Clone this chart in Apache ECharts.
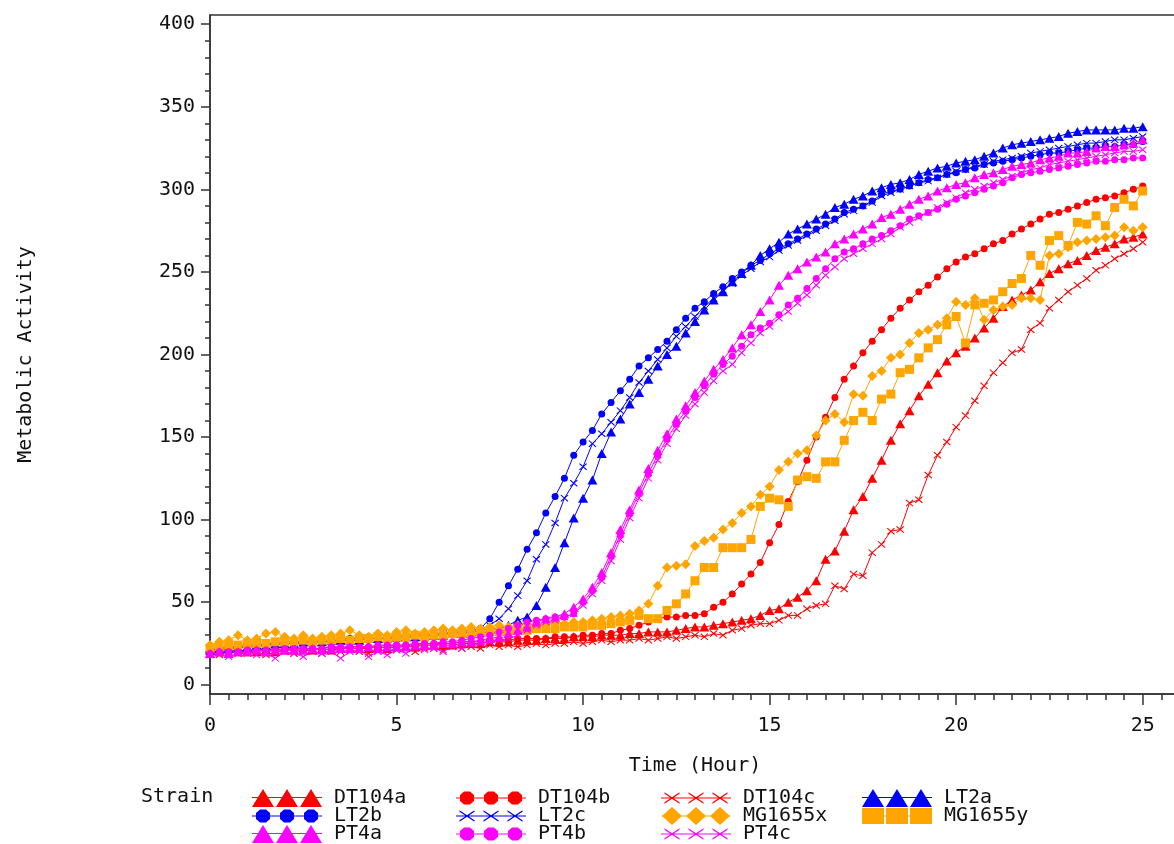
<!DOCTYPE html>
<html><head><meta charset="utf-8">
<script src="https://cdn.jsdelivr.net/npm/echarts@6/dist/echarts.min.js"></script>
<style>html,body{margin:0;padding:0;background:#fff;overflow:hidden}#c{width:1192px;height:844px}</style>
</head><body><div id="c"></div>
<script>
// ---------------- data ----------------
const hours = [0,0.25,0.5,0.75,1,1.25,1.5,1.75,2,2.25,2.5,2.75,3,3.25,3.5,3.75,4,4.25,4.5,4.75,
5,5.25,5.5,5.75,6,6.25,6.5,6.75,7,7.25,7.5,7.75,8,8.25,8.5,8.75,9,9.25,9.5,9.75,
10,10.25,10.5,10.75,11,11.25,11.5,11.75,12,12.25,12.5,12.75,13,13.25,13.5,13.75,14,14.25,14.5,14.75,
15,15.25,15.5,15.75,16,16.25,16.5,16.75,17,17.25,17.5,17.75,18,18.25,18.5,18.75,19,19.25,19.5,19.75,
20,20.25,20.5,20.75,21,21.25,21.5,21.75,22,22.25,22.5,22.75,23,23.25,23.5,23.75,24,24.25,24.5,24.75,
25];

const DT104a = [19,20,19,20,20,20,21,20,21,21,21,21,22,21,22,22,22,22,23,22,
23,23,23,24,24,24,24,25,25,25,26,26,26,27,27,27,28,28,28,29,
29,29,30,30,30,31,31,32,32,32,33,34,35,35,36,37,38,39,40,42,
45,46,50,53,57,63,76,81,93,106,114,125,136,148,158,166,175,182,189,196,
201,205,210,216,222,229,233,236,239,244,249,252,255,257,260,263,265,267,270,271,
273];
const DT104b = [20,20,21,20,21,21,21,22,21,22,22,22,22,23,22,23,23,23,23,24,
24,24,24,25,25,25,25,26,26,26,27,27,27,28,28,28,28,29,29,29,
30,30,31,31,33,34,36,38,40,41,41,42,42,43,47,50,55,61,67,74,
86,97,111,123,136,150,162,174,185,193,201,208,215,222,228,233,238,242,247,252,
256,259,261,264,267,269,273,276,279,282,285,286,288,290,292,294,295,296,298,300,
302];
const DT104c = [19,18,20,19,19,20,18,20,20,19,21,20,19,21,20,21,20,19,21,21,
21,22,20,22,22,21,23,22,23,22,24,23,24,23,24,25,24,25,25,26,
25,26,27,26,27,27,28,27,28,29,28,29,30,29,31,30,33,34,36,37,
37,39,42,42,46,48,49,60,58,67,66,80,85,93,94,110,112,127,139,147,
156,163,172,181,189,195,201,203,215,219,228,233,238,242,246,251,254,258,261,264,
268];
const LT2a = [21,22,22,23,23,24,24,25,25,25,26,26,26,27,27,27,27,28,28,28,
29,29,29,30,30,30,31,31,32,33,34,34,36,39,41,48,59,71,86,101,
113,124,140,153,161,170,177,185,193,200,205,213,220,227,233,238,244,249,254,260,
264,268,273,276,279,282,285,289,291,294,296,299,301,303,304,306,309,311,313,314,
316,317,318,320,322,325,327,328,329,330,331,332,334,335,336,336,336,336,337,337,
338];
const LT2b = [21,22,23,23,24,24,25,25,26,26,26,27,27,27,28,28,28,29,28,29,
29,30,30,30,31,31,32,33,33,34,40,50,60,70,82,92,104,114,125,139,
147,154,164,171,178,185,193,198,203,208,215,222,228,232,237,241,246,250,254,257,
261,264,267,270,273,276,279,282,286,288,290,293,297,299,300,302,304,306,307,309,
310,312,313,315,316,317,318,319,320,321,322,322,323,324,325,325,326,326,327,327,
329];
const LT2c = [20,21,22,22,23,23,24,24,25,25,25,26,26,26,27,27,27,28,28,28,
28,29,29,30,30,31,31,32,32,33,36,40,46,54,63,76,85,98,113,122,
132,146,152,159,166,174,183,190,197,204,211,217,223,229,234,239,243,248,252,256,
259,263,266,269,272,275,278,281,285,287,290,292,296,298,300,302,304,305,307,309,
311,312,314,315,317,318,319,320,322,323,324,325,326,327,328,328,329,330,330,331,
332];
const MG1655x = [24,26,27,30,27,28,31,32,29,28,30,28,29,30,31,33,30,29,31,30,
32,33,31,32,33,34,33,34,35,34,35,36,35,36,37,36,37,38,37,38,
38,39,40,41,42,43,45,49,60,71,72,73,84,87,89,94,98,104,108,115,
120,130,135,140,142,151,160,164,159,176,175,187,190,198,200,207,213,215,218,222,
232,230,234,221,227,229,230,234,234,233,260,261,265,268,269,270,271,272,277,275,
277];
const MG1655y = [22,23,24,24,25,25,25,26,26,26,27,26,27,27,28,27,28,28,29,28,
29,29,30,29,30,30,31,31,31,32,32,32,33,33,33,34,34,34,35,35,
35,36,36,37,38,39,42,40,40,45,49,55,63,71,71,83,83,83,88,108,
113,112,108,124,126,125,135,135,148,160,165,160,173,176,189,191,198,204,209,218,
223,207,230,231,233,238,243,246,260,254,269,272,266,280,279,284,278,289,294,290,
299];
const PT4a = [19,20,19,20,20,21,20,21,21,21,21,22,21,22,22,22,22,23,22,23,
23,23,24,24,24,25,25,26,26,27,28,29,31,33,35,38,40,41,43,47,
52,59,68,80,94,106,118,131,142,152,161,169,177,184,191,197,204,212,218,226,
233,242,248,252,256,259,262,267,270,273,276,279,283,285,288,291,294,296,299,301,
303,304,307,309,310,312,314,315,316,318,319,320,322,322,323,325,326,326,327,328,
330];
const PT4b = [19,20,20,20,21,21,21,21,22,22,22,22,22,23,23,23,23,23,24,24,
24,24,25,25,25,26,26,27,28,29,30,32,34,36,38,39,40,41,41,43,
50,57,65,78,91,104,116,128,139,149,158,166,174,181,188,194,199,205,212,216,
219,224,230,234,240,246,252,258,262,264,267,270,272,275,278,282,284,286,288,291,
294,296,298,300,302,304,307,309,310,311,312,313,314,315,316,317,317,318,318,319,
319];
const PT4c = [18,19,17,19,20,18,19,16,20,19,17,20,19,20,16,20,21,17,20,18,
21,19,22,21,22,20,23,22,24,25,26,27,28,30,33,36,38,39,41,43,
48,55,63,75,88,101,113,125,136,146,155,163,170,177,184,190,194,201,207,213,
217,222,226,231,236,242,248,253,258,261,264,267,270,273,277,280,283,286,289,292,
295,298,300,302,304,306,308,310,312,313,315,316,317,318,319,320,321,322,323,323,
324];

const strainNames = ['DT104a','DT104b','DT104c','LT2a','LT2b','LT2c','MG1655x','MG1655y','PT4a','PT4b','PT4c'];
const xMajorTicks = [0,5,10,15,20,25];
const xMinorTicks = [0.5,1,1.5,2,2.5,3,3.5,4,4.5,5.5,6,6.5,7,7.5,8,8.5,9,9.5,
10.5,11,11.5,12,12.5,13,13.5,14,14.5,15.5,16,16.5,17,17.5,18,18.5,19,19.5,
20.5,21,21.5,22,22.5,23,23.5,24,24.5,25.5];
const yMajorTicks = [0,50,100,150,200,250,300,350,400];
const yMinorTicks = [10,20,30,40,60,70,80,90,110,120,130,140,160,170,180,190,
210,220,230,240,260,270,280,290,310,320,330,340,360,370,380,390];

// ---------------- styles ----------------
const FONT = 'DejaVu Sans Mono';
const TXT = '#111';
const RED = '#FF0000', BLUE = '#0000FF', ORANGE = '#FFA500', MAG = '#FF00FF';
const CROSS = 'path://M0 1 L1 0 L10 9 L9 10 Z M9 0 L10 1 L1 10 L0 9 Z';

// legend icons (3 markers on a line)
const CX = [11, 35, 59];
const BOX = 'M0 0 M77 18 ';
const bar = (y0, y1) => `M0 ${y0} L70 ${y0} L70 ${y1} L0 ${y1} Z `;
const tri = cx => `M${cx-11} 18 L${cx} 0 L${cx+11} 18 Z `;
const oct = cx => `M${cx-3} 2.5 L${cx+3} 2.5 L${cx+7} 6 L${cx+7} 12 L${cx+3} 15.5 L${cx-3} 15.5 L${cx-7} 12 L${cx-7} 6 Z `;
const xm = cx => { const a = cx-7.5, b = cx+7.5; return `M${a} 3.3 L${b} 13.3 L${b} 14.7 L${a} 4.7 Z M${a} 13.3 L${b} 3.3 L${b} 4.7 L${a} 14.7 Z `; };
const dia = cx => `M${cx} 0 L${cx+10} 9 L${cx} 18 L${cx-10} 9 Z `;
const sq = cx => `M${cx-11} 1 L${cx+11} 1 L${cx+11} 17 L${cx-11} 17 Z `;
const icon = (fn, y0, y1) => 'path://' + BOX + bar(y0, y1) + CX.map(fn).join('');
const ICON = {
  triangle: icon(tri, 8, 9),
  circle: icon(oct, 8.5, 9.5),
  cross: icon(xm, 8.5, 9.5),
  diamond: icon(dia, 8.5, 9.5),
  rect: icon(sq, 8.5, 9.5)
};

const styleMap = {
  DT104a: {c: RED, s: 'triangle', z: [10, 9]},
  DT104b: {c: RED, s: 'circle', z: 7},
  DT104c: {c: RED, s: 'cross', z: [8, 7]},
  LT2a: {c: BLUE, s: 'triangle', z: [10, 9]},
  LT2b: {c: BLUE, s: 'circle', z: 7},
  LT2c: {c: BLUE, s: 'cross', z: [8, 7]},
  MG1655x: {c: ORANGE, s: 'diamond', z: [10, 10]},
  MG1655y: {c: ORANGE, s: 'rect', z: [9, 9]},
  PT4a: {c: MAG, s: 'triangle', z: [10, 9]},
  PT4b: {c: MAG, s: 'circle', z: 7},
  PT4c: {c: MAG, s: 'cross', z: [8, 7]}
};
const seriesData = {DT104a, DT104b, DT104c, LT2a, LT2b, LT2c, MG1655x, MG1655y, PT4a, PT4b, PT4c};

const series = strainNames.map(n => {
  const st = styleMap[n];
  return {
    name: n, type: 'line',
    data: hours.map((h, i) => [h, seriesData[n][i]]),
    xAxisIndex: 0, yAxisIndex: 0,
    symbol: st.s === 'cross' ? CROSS : st.s,
    symbolSize: st.z,
    showSymbol: true, showAllSymbol: true,
    lineStyle: {width: 1, color: st.c},
    itemStyle: {color: st.c, borderWidth: 0},
    emphasis: {disabled: true},
    animation: false
  };
});

const legendCols = [
  {left: 252, names: ['DT104a', 'LT2b', 'PT4a']},
  {left: 456, names: ['DT104b', 'LT2c', 'PT4b']},
  {left: 661, names: ['DT104c', 'MG1655x', 'PT4c']},
  {left: 862, names: ['LT2a', 'MG1655y']}
];
const legends = legendCols.map(col => ({
  orient: 'vertical', left: col.left, top: 788, height: 80, padding: 0, itemGap: -2,
  itemWidth: 77, itemHeight: 18, selectedMode: false,
  itemStyle: {borderWidth: 0},
  textStyle: {fontFamily: FONT, fontSize: 20, color: TXT, lineHeight: 18},
  data: col.names.map(n => ({name: n, icon: ICON[styleMap[n].s]}))
}));

const axisLineStyle = {color: '#333', width: 1.5};
const option = {
  backgroundColor: '#fff',
  animation: false,
  grid: {left: 210, top: 15, width: 970, height: 679, show: true, borderColor: '#333', borderWidth: 1.5, containLabel: false},
  xAxis: [
    {type: 'value', min: 0, max: 26, position: 'bottom',
     axisLine: {show: true, onZero: false, lineStyle: axisLineStyle},
     axisTick: {show: true, customValues: xMajorTicks, length: 11, lineStyle: axisLineStyle},
     axisLabel: {customValues: xMajorTicks, margin: 22, fontFamily: FONT, fontSize: 20, color: TXT},
     splitLine: {show: false},
     name: 'Time (Hour)', nameLocation: 'middle', nameGap: 62,
     nameTextStyle: {fontFamily: FONT, fontSize: 20, color: TXT}},
    {type: 'value', min: 0, max: 26, position: 'bottom',
     axisLine: {show: false, onZero: false},
     axisTick: {show: true, customValues: xMinorTicks, length: 6, lineStyle: axisLineStyle},
     axisLabel: {show: false}, splitLine: {show: false}}
  ],
  yAxis: [
    {type: 'value', min: -5.6, max: 405.6, position: 'left',
     axisLine: {show: true, onZero: false, lineStyle: axisLineStyle},
     axisTick: {show: true, customValues: yMajorTicks, length: 9, lineStyle: axisLineStyle},
     axisLabel: {customValues: yMajorTicks, margin: 15, fontFamily: FONT, fontSize: 20, color: TXT},
     splitLine: {show: false},
     name: 'Metabolic Activity', nameLocation: 'middle', nameGap: 174,
     nameTextStyle: {fontFamily: FONT, fontSize: 20, color: TXT}},
    {type: 'value', min: -5.6, max: 405.6, position: 'left',
     axisLine: {show: false, onZero: false},
     axisTick: {show: true, customValues: yMinorTicks, length: 5, lineStyle: axisLineStyle},
     axisLabel: {show: false}, splitLine: {show: false}}
  ],
  legend: legends,
  graphic: [{type: 'text', left: 141, top: 787, style: {text: 'Strain', font: '20px "DejaVu Sans Mono"', fill: TXT}}],
  series: series
};
const chart = echarts.init(document.getElementById('c'), null, {renderer: 'canvas'});
chart.setOption(option);
</script>
</body></html>
